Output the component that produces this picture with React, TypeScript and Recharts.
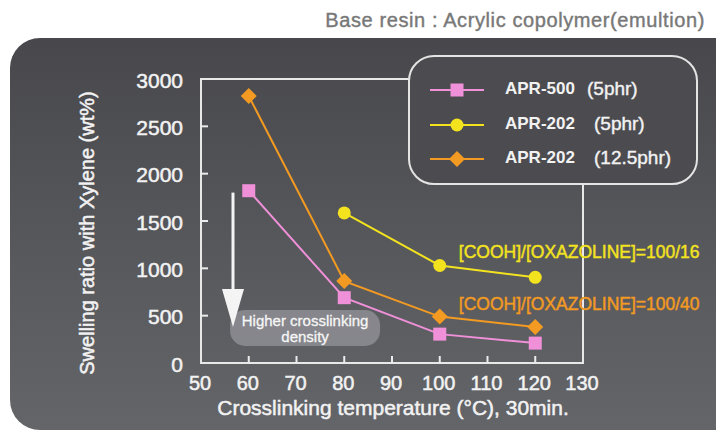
import React from 'react';
import { LineChart, Line, XAxis, YAxis, Legend, ReferenceArea, ReferenceDot, ReferenceLine, Label } from 'recharts';

// Crosslinking temperature (°C) and swelling ratio (wt%)
const temps = [60, 80, 100, 120];
const apr500 = [1820, 690, 305, 210];
const apr202Low = [null, 1585, 1030, 905];
const apr202High = [2820, 865, 490, 380];

const xTicks = [50, 60, 70, 80, 90, 100, 110, 120, 130];
const yTicks = [0, 500, 1000, 1500, 2000, 2500, 3000];

const title = 'Base resin : Acrylic copolymer(emultion)';
const xTitle = 'Crosslinking temperature (°C), 30min.';
const yTitle = 'Swelling ratio with Xylene (wt%)';
const ratio16 = '[COOH]/[OXAZOLINE]=100/16';
const ratio40 = '[COOH]/[OXAZOLINE]=100/40';

const data = temps.map((t, i) => ({
  t,
  apr500: apr500[i],
  apr202a: apr202Low[i],
  apr202b: apr202High[i],
}));

const series = [
  { key: 'apr500', name: 'APR-500', sub: '(5phr)', subX: 177, color: '#ef90d8', shape: 'square' },
  { key: 'apr202a', name: 'APR-202', sub: '(5phr)', subX: 184, color: '#f3e31f', shape: 'circle' },
  { key: 'apr202b', name: 'APR-202', sub: '(12.5phr)', subX: 184, color: '#f29a22', shape: 'diamond' },
];

const PLOT = { left: 201, top: 79, right: 583, bottom: 363 };
const W = 716;
const H = 434;
const FONT = '"Liberation Sans", Arial, Helvetica, sans-serif';
const TEXT = '#f2f2f2';

// a thin stroke in the fill colour gives the slightly heavier look of the original type
const heavy = (c: string, w = 0.5) => ({ fill: c, stroke: c, strokeWidth: w });

const Marker = ({ cx, cy, shape, color }: any) => {
  if (cx == null || cy == null) return <g />;
  if (shape === 'square') return <rect x={cx - 6.5} y={cy - 6.5} width={13} height={13} fill={color} />;
  if (shape === 'circle') return <circle cx={cx} cy={cy} r={6.5} fill={color} />;
  return <polygon points={`${cx},${cy - 8} ${cx + 8},${cy} ${cx},${cy + 8} ${cx - 8},${cy}`} fill={color} />;
};

const XTick = (p: any) => {
  const v = p.payload.value;
  return (
    <g>
      {v > 50 && v < 130 && (
        <line x1={p.x} x2={p.x} y1={PLOT.bottom} y2={PLOT.bottom - 7} stroke="#ececec" strokeWidth={2} />
      )}
      <text x={p.x - 1} y={PLOT.bottom + 20} textAnchor="middle" dominantBaseline="central"
        {...heavy(TEXT)} fontSize={20} fontFamily={FONT}>{v}</text>
    </g>
  );
};

const YTick = (p: any) => {
  const v = p.payload.value;
  return (
    <g>
      {v > 0 && v < 3000 && (
        <line x1={PLOT.left} x2={PLOT.left + 7} y1={p.y} y2={p.y} stroke="#ececec" strokeWidth={2} />
      )}
      <text x={PLOT.left - 18} y={p.y + 1} textAnchor="end" dominantBaseline="central"
        {...heavy(TEXT)} fontSize={21} fontFamily={FONT}>{v}</text>
    </g>
  );
};

const LegendBox = () => (
  <div style={{
    position: 'relative', width: 290, height: 130, boxSizing: 'border-box',
    border: '2px solid #e4e4e4', borderRadius: 26, background: '#4c4c50', fontFamily: FONT,
  }}>
    {series.map((s, i) => (
      <div key={s.key} style={{ position: 'absolute', left: 0, top: 33 + i * 34.5 - 12, height: 24, width: 290 }}>
        <svg width={60} height={24} style={{ position: 'absolute', left: 20, top: 0 }}>
          <line x1={0} x2={54} y1={12} y2={12} stroke={s.color} strokeWidth={2} />
          <Marker cx={27} cy={12} shape={s.shape} color={s.color} />
        </svg>
        <span style={{ position: 'absolute', left: 95, top: 1, fontSize: 17, fontWeight: 'bold', color: TEXT, whiteSpace: 'nowrap' }}>{s.name}</span>
        <span style={{ position: 'absolute', left: s.subX, top: 0, fontSize: 19, color: TEXT, whiteSpace: 'nowrap', WebkitTextStroke: '0.4px #f2f2f2' }}>{s.sub}</span>
      </div>
    ))}
  </div>
);

const ratioLabel = (text: string, color: string) => (p: any) => {
  const vb = p.viewBox || {};
  return (
    <text x={vb.x} y={vb.y} dominantBaseline="central" {...heavy(color, 0.45)} fontSize={17.5}
      fontFamily={FONT}>{text}</text>
  );
};

const ArrowHead = (p: any) => (
  <polygon points={`${p.cx},${p.cy} ${p.cx - 11},${p.cy - 38} ${p.cx + 11},${p.cy - 38}`} fill="#f4f4f4" />
);

const DensityBox = (p: any) => (
  <rect x={p.x} y={p.y} width={p.width} height={p.height} rx={15} fill="rgba(160,160,166,0.62)" />
);

const densityLabel = (p: any) => {
  const vb = p.viewBox || {};
  const cx = vb.x + vb.width / 2;
  return (
    <text x={cx} textAnchor="middle" {...heavy('#f6f6f6', 0.3)} fontSize={15} fontFamily={FONT}>
      <tspan x={cx} y={vb.y + 16}>Higher crosslinking</tspan>
      <tspan x={cx} y={vb.y + 32}>density</tspan>
    </text>
  );
};

export default function App() {
  const yAxisW = 60;
  const xAxisH = 30;
  return (
    <div style={{ position: 'absolute', left: 0, top: 0, width: W, height: H, overflow: 'hidden', background: '#fff' }}>
      <div style={{
        position: 'absolute', left: 10, top: 38, width: 738, height: 392, borderRadius: 30,
        background: 'linear-gradient(180deg, #48484c 0%, #56575b 50%, #646569 100%)',
      }} />
      <div style={{
        position: 'absolute', right: 11, top: 9, fontFamily: FONT, fontSize: 20, letterSpacing: 0.6,
        color: '#787878', whiteSpace: 'nowrap', WebkitTextStroke: '0.4px #787878',
      }}>{title}</div>
      <div style={{ position: 'absolute', left: 0, top: 0 }}>
        <LineChart
          width={W}
          height={H}
          data={data}
          margin={{
            top: PLOT.top,
            right: W - PLOT.right,
            bottom: H - PLOT.bottom - xAxisH,
            left: PLOT.left - yAxisW,
          }}
        >
          <ReferenceArea x1={50} x2={130} y1={0} y2={3000} fill="none" stroke="#e8e8e8" strokeWidth={2} />
          <XAxis type="number" dataKey="t" domain={[50, 130]} ticks={xTicks} interval={0}
            axisLine={false} tickLine={false} tick={XTick} height={xAxisH}>
            <Label content={(p: any) => (
              <text x={p.viewBox.x + p.viewBox.width / 2 + 1} y={p.viewBox.y + 44} textAnchor="middle"
                dominantBaseline="central" {...heavy(TEXT)} fontSize={21} fontFamily={FONT}>{xTitle}</text>
            )} />
          </XAxis>
          <YAxis type="number" domain={[0, 3000]} ticks={yTicks} interval={0}
            axisLine={false} tickLine={false} tick={YTick} width={yAxisW}>
            <Label content={(p: any) => {
              const x = p.viewBox.x - 54;
              const y = p.viewBox.y + p.viewBox.height / 2 + 12;
              return (
                <text x={x} y={y} transform={`rotate(-90 ${x} ${y})`} textAnchor="middle"
                  dominantBaseline="central" {...heavy(TEXT)} fontSize={20} fontFamily={FONT}>{yTitle}</text>
              );
            }} />
          </YAxis>
          <ReferenceLine segment={[{ x: 56.7, y: 1800 }, { x: 56.7, y: 700 }]} stroke="#f4f4f4" strokeWidth={3} />
          <ReferenceDot x={56.7} y={380} r={0} shape={ArrowHead} />
          <ReferenceArea x1={56.1} x2={87.5} y1={180} y2={560} shape={DensityBox} label={densityLabel} />
          <ReferenceDot x={104} y={1172} r={0} fill="none" stroke="none" label={ratioLabel(ratio16, '#f3e31f')} />
          <ReferenceDot x={104} y={620} r={0} fill="none" stroke="none" label={ratioLabel(ratio40, '#f29a22')} />
          {series.map((s) => (
            <Line key={s.key} dataKey={s.key} name={s.name} stroke={s.color} strokeWidth={2}
              isAnimationActive={false} connectNulls={false}
              dot={(p: any) => <Marker key={`${s.key}-${p.index}`} cx={p.cx} cy={p.cy} shape={s.shape} color={s.color} />}
              activeDot={false} />
          ))}
          <Legend layout="vertical" align="center" verticalAlign="middle" content={LegendBox}
            wrapperStyle={{ position: 'absolute', left: 408, top: 55, width: 290, height: 130 }} />
        </LineChart>
      </div>
    </div>
  );
}
